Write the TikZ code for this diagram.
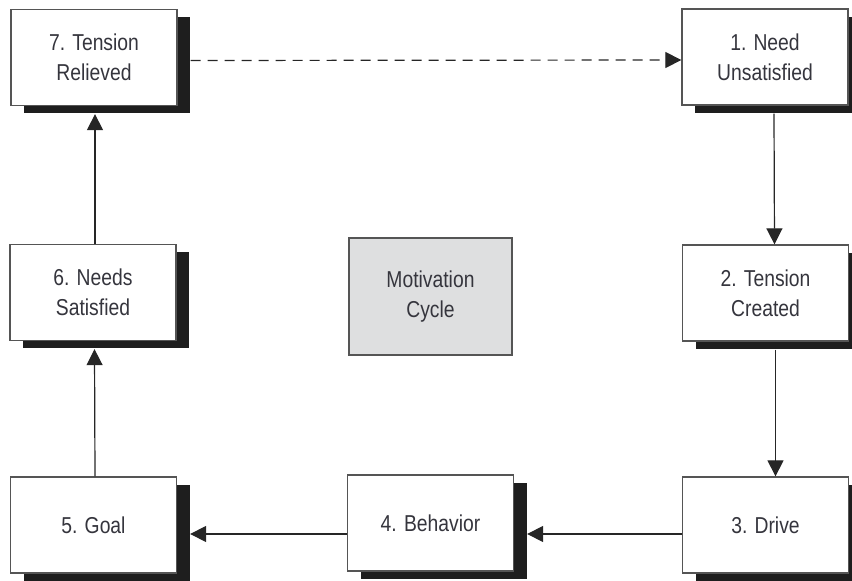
\documentclass[tikz,border=0pt]{standalone}
\usepackage{fontspec}
\setmainfont{Liberation Sans}[FakeStretch=0.84]
\usetikzlibrary{shadows,arrows.meta,calc}
\definecolor{txt}{HTML}{35353D}
\definecolor{edge}{HTML}{555555}
\definecolor{shade}{HTML}{1E1E1E}
\definecolor{mfill}{HTML}{DEDFE0}
\begin{document}
\begin{tikzpicture}[x=1pt,y=1pt,
  stepbox/.style={draw=edge, line width=1.3pt, fill=white, minimum width=166pt, minimum height=96pt,
     inner sep=0pt, align=center, text=txt, font=\fontsize{23}{30}\selectfont,
     general shadow={shadow xshift=13pt, shadow yshift=-8pt, fill=shade}},
  centerbox/.style={draw=edge, line width=1.3pt, fill=mfill, minimum width=163pt, minimum height=117pt,
     inner sep=0pt, align=center, text=txt, font=\fontsize{23}{30}\selectfont},
  arr/.style={draw=black!85, line width=1.2pt, -{Triangle[length=16pt,width=16pt]}}]
\useasboundingbox (0,0) rectangle (852,581);
\node[stepbox] (b7) at (94,523.5) {7. Tension\\Relieved};
\node[stepbox] (b1) at (765,524) {1. Need\\Unsatisfied};
\node[stepbox] (b6) at (93,288.5) {6. Needs\\Satisfied};
\node[stepbox] (b2) at (765.5,288) {2. Tension\\Created};
\node[centerbox] (m) at (430.5,284.5) {Motivation\\Cycle};
\node[stepbox] (b5) at (93.5,56) {5. Goal};
\node[stepbox] (b4) at (430.5,58) {4. Behavior};
\node[stepbox] (b3) at (765.5,56) {3. Drive};
\draw[arr, dash pattern=on 10pt off 7pt] ([xshift=13pt,yshift=-3pt]b7.east) -- ([yshift=-3pt]b1.west);
\draw[arr] ([xshift=9pt,yshift=-8pt]b1.south) -- ([xshift=9pt]b2.north);
\draw[arr] ([xshift=10pt,yshift=-8pt]b2.south) -- ([xshift=10pt]b3.north);
\draw[arr] ([yshift=-9pt]b3.west) -- ([xshift=13pt,yshift=-11pt]b4.east);
\draw[arr] ([yshift=-11pt]b4.west) -- ([xshift=13pt,yshift=-9pt]b5.east);
\draw[arr] ([xshift=1.5pt]b5.north) -- ([xshift=1.5pt,yshift=-8pt]b6.south);
\draw[arr] ([xshift=2pt]b6.north) -- ([xshift=1pt,yshift=-8pt]b7.south);
\end{tikzpicture}
\end{document}
